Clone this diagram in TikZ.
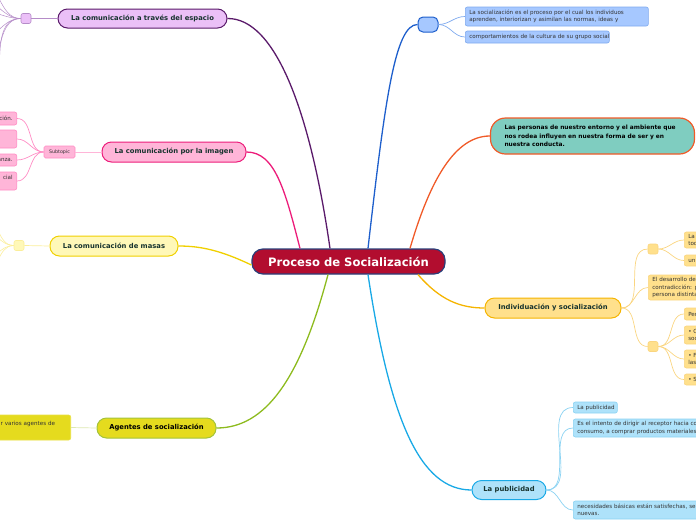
\documentclass[tikz,border=0pt]{standalone}
\usepackage{fontspec}
\setmainfont{DejaVu Sans}
\definecolor{ctrfill}{HTML}{B20D2F}
\definecolor{ctrdraw}{HTML}{2A3F7A}
\definecolor{maintext}{HTML}{17332E}
\definecolor{childtext}{HTML}{333333}
\definecolor{purfill}{HTML}{EBC0F7}
\definecolor{purdraw}{HTML}{5A1A6A}
\definecolor{purlight}{HTML}{B58CC8}
\definecolor{pinkfill}{HTML}{FFB5D8}
\definecolor{pinkdraw}{HTML}{EC1C7A}
\definecolor{pinklight}{HTML}{FF8CC4}
\definecolor{yelfill}{HTML}{FFF8B8}
\definecolor{yeldraw}{HTML}{F0D000}
\definecolor{yellight}{HTML}{FBEE9A}
\definecolor{agfill}{HTML}{E5DB1E}
\definecolor{agdraw}{HTML}{A3C33A}
\definecolor{aglight}{HTML}{DDE8B0}
\definecolor{grnline}{HTML}{8DBB1E}
\definecolor{bluefill}{HTML}{A6C8FF}
\definecolor{bluedraw}{HTML}{1E5FCC}
\definecolor{bluelight}{HTML}{7FAAEE}
\definecolor{tealfill}{HTML}{7FCDC0}
\definecolor{orgline}{HTML}{F05A28}
\definecolor{goldfill}{HTML}{FFE08C}
\definecolor{golddraw}{HTML}{F5B400}
\definecolor{goldlight}{HTML}{FAD580}
\definecolor{lbfill}{HTML}{AEE2FA}
\definecolor{lbdraw}{HTML}{19A9E6}
\definecolor{lblight}{HTML}{8AD2F2}
\tikzset{
  mainnode/.style={draw, line width=1pt, rounded corners=9.5pt, minimum height=20pt,
    inner sep=0pt, font=\bfseries\fontsize{6.8}{8}\selectfont, text=maintext},
  childbox/.style={draw, line width=0.6pt, rounded corners=2pt, inner xsep=4pt, inner ysep=0pt,
    font=\fontsize{5.6}{7.5}\selectfont, text=childtext, align=left},
  sqbox/.style={draw, line width=0.6pt, rounded corners=2pt, minimum width=10pt, minimum height=10pt, inner sep=0pt},
  mainline/.style={line width=1.3pt},
  subline/.style={line width=0.7pt}
}
\begin{document}
\begin{tikzpicture}[x=1pt,y=-1pt]
\useasboundingbox (0,0) rectangle (696,520);
\clip (0,0) rectangle (696,520);

% central
\node[draw=ctrdraw, fill=ctrfill, line width=1.2pt, rounded corners=11pt, minimum width=193pt,
  minimum height=25pt, inner sep=0pt, text=white, font=\bfseries\fontsize{11.6}{13}\selectfont]
  (c) at (348.5,261.5) {Proceso de Socialización};

% main nodes
\node[mainnode, fill=purfill, draw=purdraw, minimum width=169pt, minimum height=19pt] (pur) at (142.5,18.5) {La comunicación a través del espacio};
\node[mainnode, fill=pinkfill, draw=pinkdraw, minimum width=144pt] (pink) at (174,152) {La comunicación por la imagen};
\node[mainnode, fill=yelfill, draw=yeldraw, minimum width=128pt] (mas) at (114,246) {La comunicación de masas};
\node[mainnode, fill=agfill, draw=agdraw, minimum width=119pt, text=black] (ag) at (156.5,428) {Agentes de socialización};
\node[draw=bluedraw, fill=bluefill, line width=1pt, rounded corners=5pt, minimum width=20pt, minimum height=15pt, inner sep=0pt] (bl) at (428,24.5) {};
\node[draw=orgline, fill=tealfill, line width=1.2pt, rounded corners=15pt, minimum width=204pt, minimum height=36pt,
  inner xsep=14pt, text width=176pt, align=left, text=black, font=\bfseries\fontsize{5.9}{8.5}\selectfont]
  (teal) at (592.5,136) {Las personas de nuestro entorno y el ambiente que\\nos rodea influyen en nuestra forma de ser y en\\nuestra conducta.};
\node[mainnode, fill=goldfill, draw=golddraw, minimum width=136pt] (ind) at (553,308) {Individuación y socialización};
\node[mainnode, fill=lbfill, draw=lbdraw, minimum width=74pt, minimum height=19pt] (pub) at (509,490) {La publicidad};

% main connectors
\draw[mainline, purdraw] ([xshift=-18.5pt]c.north) .. controls (310,110) and (275,18) .. (pur.east);
\draw[mainline, pinkdraw] ([xshift=-48.5pt]c.north) .. controls (285,190) and (275,152) .. (pink.east);
\draw[mainline, yeldraw] ([yshift=-3.5pt]c.west) .. controls (220,250) and (200,246) .. (mas.east);
\draw[mainline, grnline] ([xshift=-20.5pt]c.south) .. controls (300,380) and (265,428) .. (ag.east);
\draw[mainline, bluedraw] ([xshift=19.5pt]c.north) .. controls (385,100) and (395,24.5) .. (bl.west);
\draw[mainline, orgline] ([xshift=61.5pt]c.north) .. controls (430,180) and (455,136) .. (teal.west);
\draw[mainline, golddraw] ([xshift=69.5pt]c.south) .. controls (440,300) and (460,308) .. (ind.west);
\draw[mainline, lbdraw] ([xshift=19.5pt]c.south) .. controls (390,420) and (420,490) .. (pub.west);

% purple branch
\node[sqbox, fill=purfill, draw=purlight] (psq) at (26,18.5) {};
\draw[subline, purlight] (pur.west) -- (psq.east);
\foreach \n/\yy in {a/-20,b/-2,c/10,d/40,e/75,f/110}{
  \coordinate (pf\n) at (-22,\yy);
  \draw[line width=0.5pt, purlight] (psq.west) to[out=180,in=0] (pf\n);
}

% pink branch
\node[draw=pinklight, fill=pinkfill, line width=0.6pt, rounded corners=1.5pt, minimum width=31pt, minimum height=12pt,
  inner sep=0pt, font=\fontsize{4.8}{6}\selectfont, text=childtext] (sub) at (59.5,152) {Subtopic};
\draw[subline, pinkfill] (pink.west) -- (sub.east);
\node[childbox, fill=pinkfill, draw=pinklight, anchor=east, minimum width=40pt, minimum height=13pt, text width=32pt, align=right] (p1) at (17,118.5) {ción.};
\node[childbox, fill=pinkfill, draw=pinklight, anchor=east, minimum width=40pt, minimum height=18pt, text width=32pt, align=right] (p2) at (17,139) {};
\node[childbox, fill=pinkfill, draw=pinklight, anchor=east, minimum width=40pt, minimum height=12pt, text width=32pt, align=right] (p3) at (17,160) {anza.};
\node[childbox, fill=pinkfill, draw=pinklight, anchor=east, minimum width=40pt, minimum height=18pt, text width=32pt, align=right] (p4) at (17,181) {cial\\\mbox{}};
\foreach \p in {p1,p2,p3,p4}{
  \draw[subline, pinklight] (sub.west) to[out=180,in=0] (\p.east);
}

% masas branch
\node[sqbox, fill=yelfill, draw=yellight] (ysq) at (19,245.5) {};
\draw[subline, yellight] (mas.west) -- (ysq.east);
\foreach \n/\yy in {a/215,b/230,c/260,d/275}{
  \coordinate (yf\n) at (-18,\yy);
  \draw[line width=0.6pt, yellight] (ysq.west) to[out=180,in=0] (yf\n);
}

% agentes branch
\node[childbox, fill=agfill, draw=agfill!85!white, anchor=east, minimum width=74pt, minimum height=25pt, text width=66pt] (agc) at (71,427.5) {\mbox{r varios agentes de}\\\mbox{}};
\draw[subline, aglight] (ag.west) -- (agc.east);

% blue branch
\node[childbox, fill=bluefill, draw=bluelight, anchor=west, minimum width=183pt, minimum height=19pt, text width=175pt] (b1) at (465,16.5)
  {\mbox{La socialización es el proceso por el cual los individuos}\\\mbox{aprenden, interiorizan y asimilan las normas, ideas y}};
\node[childbox, fill=bluefill, draw=bluelight, anchor=west, minimum width=144pt, minimum height=12pt, text width=136pt] (b2) at (465,37)
  {\mbox{comportamientos de la cultura de su grupo social}};
\draw[subline, bluelight] (bl.east) to[out=0,in=180] (b1.west);
\draw[subline, bluelight] (bl.east) to[out=0,in=180] (b2.west);

% individuacion branch
\node[sqbox, fill=goldfill, draw=goldlight] (gsq1) at (653,249) {};
\node[sqbox, fill=goldfill, draw=goldlight] (gsq2) at (653,346.5) {};
\node[childbox, fill=goldfill, draw=goldlight, anchor=west, minimum width=80pt, minimum height=25pt, text width=72pt] (g3) at (648,287.5)
  {\mbox{El desarrollo del}\\\mbox{contradicción: p}\\\mbox{persona distinta}};
\draw[subline, goldlight] (ind.east) to[out=0,in=180] (gsq1.west);
\draw[subline, goldlight] (ind.east) to[out=0,in=180] (g3.west);
\draw[subline, goldlight] (ind.east) to[out=0,in=180] (gsq2.west);
\node[childbox, fill=goldfill, draw=goldlight, anchor=west, minimum width=40pt, minimum height=16pt, text width=32pt] (g1) at (684,240) {La\\tod};
\node[childbox, fill=goldfill, draw=goldlight, anchor=west, minimum width=40pt, minimum height=11pt, text width=32pt] (g2) at (684,260.5) {un};
\draw[subline, goldlight] (gsq1.east) to[out=0,in=180] (g1.west);
\draw[subline, goldlight] (gsq1.east) to[out=0,in=180] (g2.west);
\node[childbox, fill=goldfill, draw=goldlight, anchor=west, minimum width=40pt, minimum height=12pt, text width=32pt] (g4) at (684,314) {Per};
\node[childbox, fill=goldfill, draw=goldlight, anchor=west, minimum width=40pt, minimum height=18pt, text width=32pt] (g5) at (684,335) {• C\\soc};
\node[childbox, fill=goldfill, draw=goldlight, anchor=west, minimum width=40pt, minimum height=18pt, text width=32pt] (g6) at (684,359) {• F\\las};
\node[childbox, fill=goldfill, draw=goldlight, anchor=west, minimum width=40pt, minimum height=11pt, text width=32pt] (g7) at (684,379.5) {• S};
\foreach \g in {g4,g5,g6,g7}{
  \draw[subline, goldlight] (gsq2.east) to[out=0,in=180] (\g.west);
}

% publicidad branch
\node[childbox, fill=lbfill, draw=lblight, anchor=west, minimum width=44pt, minimum height=11pt, text width=36pt] (l1) at (573,407.5) {\mbox{La publicidad}};
\node[childbox, fill=lbfill, draw=lblight, anchor=west, minimum width=140pt, minimum height=18pt, text width=132pt] (l2) at (573,428)
  {\mbox{Es el intento de dirigir al receptor hacia co}\\\mbox{consumo, a comprar productos materiales.}};
\node[childbox, fill=lbfill, draw=lblight, anchor=west, minimum width=140pt, minimum height=18pt, text width=132pt] (l3) at (573,510)
  {\mbox{necesidades básicas están satisfechas, se l}\\\mbox{nuevas.}};
\foreach \l in {l1,l2,l3}{
  \draw[subline, lblight] (pub.east) to[out=0,in=180] (\l.west);
}
\end{tikzpicture}
\end{document}
